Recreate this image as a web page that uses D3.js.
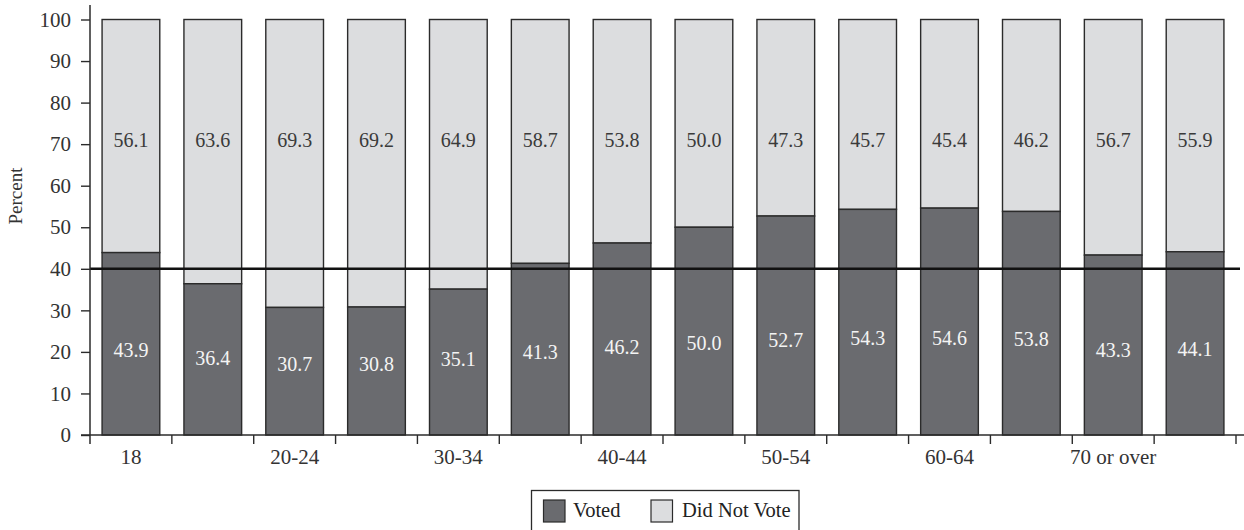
<!DOCTYPE html>
<html>
<head>
<meta charset="utf-8">
<script src="https://cdn.jsdelivr.net/npm/d3@7"></script>
<style>
  html, body { margin: 0; padding: 0; background: #fff; }
  svg { display: block; }
  text { font-family: "Liberation Serif", "Times New Roman", serif; }
</style>
</head>
<body>
<svg id="chart" width="1244" height="530"></svg>
<script>
// ---- data ----
const categories = ["18", "19", "20-24", "25-29", "30-34", "35-39", "40-44", "45-49",
                    "50-54", "55-59", "60-64", "65-69", "70 or over", "75 or over"];
const tickLabels = ["18", "", "20-24", "", "30-34", "", "40-44", "", "50-54", "", "60-64", "", "70 or over", ""];
const voted =      [43.9, 36.4, 30.7, 30.8, 35.1, 41.3, 46.2, 50.0, 52.7, 54.3, 54.6, 53.8, 43.3, 44.1];
const didNotVote = [56.1, 63.6, 69.3, 69.2, 64.9, 58.7, 53.8, 50.0, 47.3, 45.7, 45.4, 46.2, 56.7, 55.9];
const yTicks = [0, 10, 20, 30, 40, 50, 60, 70, 80, 90, 100];
const referenceValue = 40;
const seriesNames = ["Voted", "Did Not Vote"];

// ---- layout ----
const svg = d3.select("#chart");
const plotLeft = 90, plotRight = 1236, plotTop = 19.5, plotBottom = 435;
const darkFill = "#6a6b6f", lightFill = "#dcdddf", strokeCol = "#2b2b2b";

const x = d3.scaleBand().domain(categories).range([plotLeft, plotRight]).padding(0);
const y = d3.scaleLinear().domain([0, 100]).range([plotBottom, plotTop]);
const barW = x.bandwidth() * 0.705;
const off = (x.bandwidth() - barW) / 2;

const rows = categories.map((c, i) => ({ c, i, v: voted[i], d: didNotVote[i] }));

// bars: did not vote (upper segment)
svg.append("g").selectAll("rect").data(rows).join("rect")
  .attr("x", r => x(r.c) + off)
  .attr("y", r => y(r.v + r.d))
  .attr("width", barW)
  .attr("height", r => y(r.v) - y(r.v + r.d))
  .attr("fill", lightFill).attr("stroke", strokeCol).attr("stroke-width", 1.4);

// bars: voted (lower segment)
svg.append("g").selectAll("rect").data(rows).join("rect")
  .attr("x", r => x(r.c) + off)
  .attr("y", r => y(r.v))
  .attr("width", barW)
  .attr("height", r => y(0) - y(r.v))
  .attr("fill", darkFill).attr("stroke", strokeCol).attr("stroke-width", 1.4);

// value labels
svg.append("g").selectAll("text").data(rows).join("text")
  .attr("x", r => x(r.c) + x.bandwidth() / 2)
  .attr("y", r => y(69.4))
  .attr("text-anchor", "middle")
  .attr("font-size", 20).attr("fill", "#3a3a3a")
  .text(r => r.d.toFixed(1));

svg.append("g").selectAll("text").data(rows).join("text")
  .attr("x", r => x(r.c) + x.bandwidth() / 2)
  .attr("y", r => y(7.3 + 0.264 * r.v))
  .attr("text-anchor", "middle")
  .attr("font-size", 20).attr("fill", "#f4f4f4")
  .text(r => r.v.toFixed(1));

// reference line at 40
svg.append("line")
  .attr("x1", plotLeft).attr("x2", 1240)
  .attr("y1", y(referenceValue)).attr("y2", y(referenceValue))
  .attr("stroke", "#111").attr("stroke-width", 2.6);

// y axis
const yAxis = svg.append("g").attr("transform", `translate(${plotLeft},0)`)
  .call(d3.axisLeft(y).tickValues(yTicks).tickSize(9).tickPadding(10).tickFormat(d3.format("d")));
yAxis.select(".domain").remove();
yAxis.selectAll(".tick line").attr("stroke", strokeCol).attr("stroke-width", 1.4);
yAxis.selectAll(".tick text").attr("font-size", 21).attr("fill", "#333")
  .attr("font-family", "Liberation Serif, serif");
svg.append("line").attr("x1", plotLeft).attr("x2", plotLeft).attr("y1", 5).attr("y2", plotBottom + 9)
  .attr("stroke", strokeCol).attr("stroke-width", 1.5);

// x axis line
svg.append("line").attr("x1", plotLeft - 9).attr("x2", 1244).attr("y1", plotBottom).attr("y2", plotBottom)
  .attr("stroke", strokeCol).attr("stroke-width", 1.5);

// x boundary ticks
const bounds = categories.map(c => x(c)).concat([x.range()[1]]);
svg.append("g").selectAll("line").data(bounds.slice(1)).join("line")
  .attr("x1", d => d).attr("x2", d => d)
  .attr("y1", plotBottom).attr("y2", plotBottom + 9)
  .attr("stroke", strokeCol).attr("stroke-width", 1.4);

// x labels
const xAxis = svg.append("g").attr("transform", `translate(0,${plotBottom})`)
  .call(d3.axisBottom(x).tickSize(0).tickPadding(14).tickFormat((d, i) => tickLabels[i]));
xAxis.select(".domain").remove();
xAxis.selectAll(".tick text").attr("font-size", 21).attr("fill", "#333")
  .attr("font-family", "Liberation Serif, serif");

// y title
svg.append("text")
  .attr("transform", `translate(22,196) rotate(-90)`)
  .attr("text-anchor", "middle")
  .attr("font-size", 19).attr("fill", "#333")
  .text("Percent");

// legend
const lg = svg.append("g");
lg.append("rect").attr("x", 531.5).attr("y", 490.5).attr("width", 267.5).attr("height", 42)
  .attr("fill", "#fff").attr("stroke", strokeCol).attr("stroke-width", 1.3);
const legendItems = [
  { name: seriesNames[0], fill: darkFill, sx: 543.5, tx: 573 },
  { name: seriesNames[1], fill: lightFill, sx: 651, tx: 682 }
];
legendItems.forEach(it => {
  lg.append("rect").attr("x", it.sx).attr("y", 500).attr("width", 21.5).attr("height", 22)
    .attr("fill", it.fill).attr("stroke", strokeCol).attr("stroke-width", 1.2);
  lg.append("text").attr("x", it.tx).attr("y", 517)
    .attr("font-size", 20.5).attr("fill", "#222").text(it.name);
});
</script>
</body>
</html>
